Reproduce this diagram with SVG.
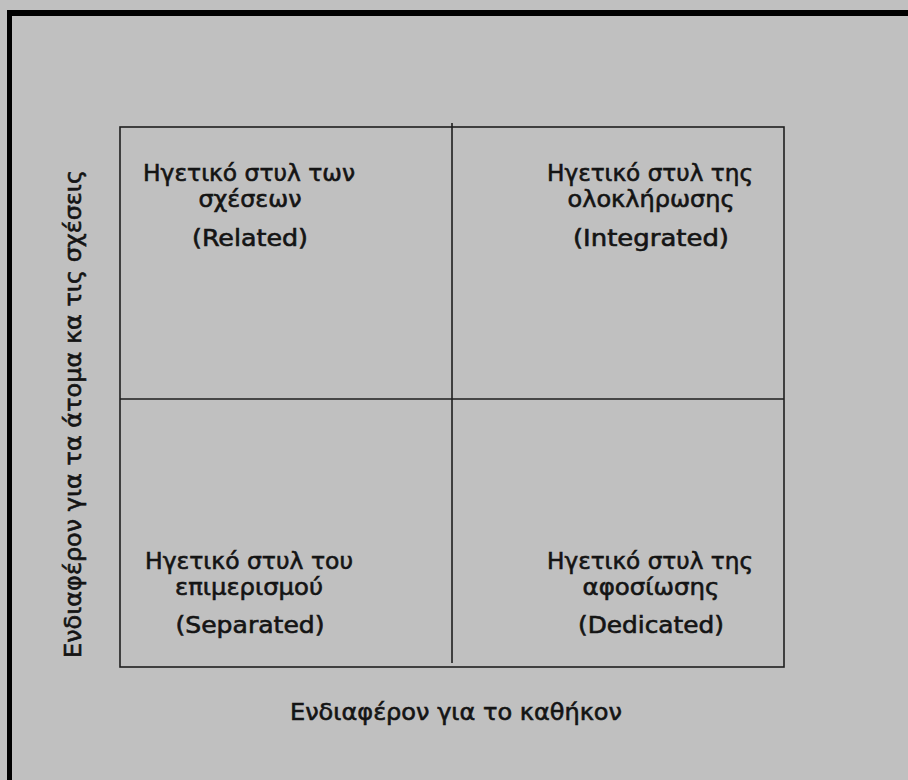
<svg xmlns="http://www.w3.org/2000/svg" width="908" height="780" viewBox="0 0 908 780">
  <style>
    .lbl { font-family: "DejaVu Sans", "Liberation Sans", sans-serif; font-size: 23px; fill: #141414; stroke: #141414; stroke-width: 0.6; text-anchor: middle; }
    .grid { stroke: #1e1e1e; stroke-width: 1.6; fill: none; }
    .frame { stroke: #000; fill: none; }
  </style>

  <!-- background panel -->
  <rect x="0" y="0" width="908" height="780" fill="#c0c0c0"/>

  <!-- thick frame on the top and left edges -->
  <g id="frame">
    <line class="frame" x1="9.5" y1="10" x2="9.5" y2="780" stroke-width="5"/>
    <line class="frame" x1="7" y1="13" x2="908" y2="13" stroke-width="6"/>
  </g>

  <!-- quadrant grid -->
  <g id="connectors">
    <rect class="grid" x="120" y="127" width="664" height="540"/>
    <line class="grid" x1="120" y1="399" x2="784" y2="399"/>
    <line class="grid" x1="452" y1="123" x2="452" y2="663"/>
  </g>

  <g id="related">
    <text class="lbl" x="249" y="181" textLength="212" lengthAdjust="spacingAndGlyphs">Ηγετικό στυλ των</text>
    <text class="lbl" x="250" y="207" textLength="103" lengthAdjust="spacingAndGlyphs">σχέσεων</text>
    <text class="lbl" x="250" y="246" textLength="116" lengthAdjust="spacingAndGlyphs">(Related)</text>
  </g>

  <g id="integrated">
    <text class="lbl" x="650" y="181" textLength="206" lengthAdjust="spacingAndGlyphs">Ηγετικό στυλ της</text>
    <text class="lbl" x="651" y="207" textLength="167" lengthAdjust="spacingAndGlyphs">ολοκλήρωσης</text>
    <text class="lbl" x="651" y="246" textLength="156" lengthAdjust="spacingAndGlyphs">(Integrated)</text>
  </g>

  <g id="separated">
    <text class="lbl" x="249" y="569" textLength="208" lengthAdjust="spacingAndGlyphs">Ηγετικό στυλ του</text>
    <text class="lbl" x="249" y="595" textLength="148" lengthAdjust="spacingAndGlyphs">επιμερισμού</text>
    <text class="lbl" x="250" y="633" textLength="149" lengthAdjust="spacingAndGlyphs">(Separated)</text>
  </g>

  <g id="dedicated">
    <text class="lbl" x="650" y="569" textLength="206" lengthAdjust="spacingAndGlyphs">Ηγετικό στυλ της</text>
    <text class="lbl" x="651" y="595" textLength="137" lengthAdjust="spacingAndGlyphs">αφοσίωσης</text>
    <text class="lbl" x="651" y="633" textLength="146" lengthAdjust="spacingAndGlyphs">(Dedicated)</text>
  </g>

  <!-- axis titles -->
  <g id="axis-x">
    <text class="lbl" x="456" y="720" textLength="332" lengthAdjust="spacingAndGlyphs">Ενδιαφέρον για το καθήκον</text>
  </g>
  <g id="axis-y">
    <text class="lbl" transform="translate(81,414) rotate(-90)" x="0" y="0" textLength="488" lengthAdjust="spacingAndGlyphs">Ενδιαφέρον για τα άτομα κα τις σχέσεις</text>
  </g>
</svg>
